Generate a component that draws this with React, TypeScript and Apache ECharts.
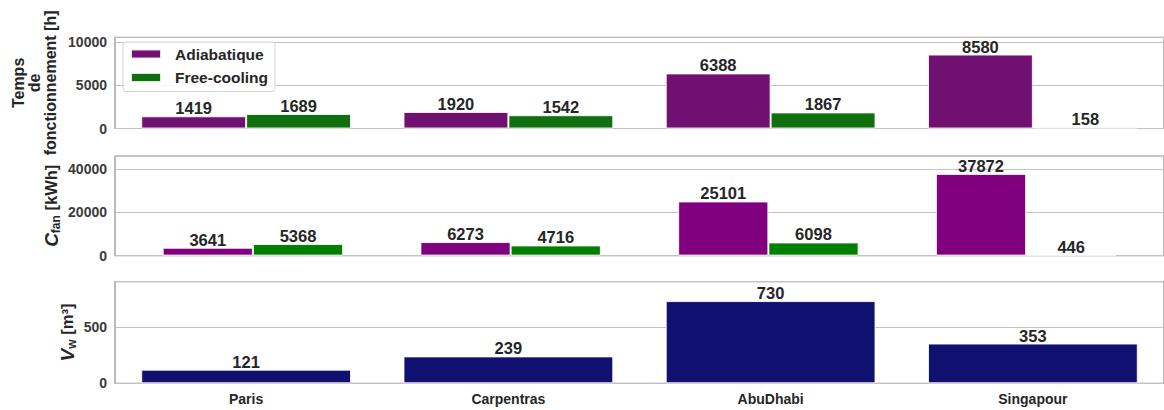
import React, { useEffect, useRef } from "react";
import * as echarts from "echarts";

const categories = ["Paris", "Carpentras", "AbuDhabi", "Singapour"];
const seriesNames = ["Adiabatique", "Free-cooling"];
const heuresAdiabatique = [1419, 1920, 6388, 8580];
const heuresFreeCooling = [1689, 1542, 1867, 158];
const cfanAdiabatique = [3641, 6273, 25101, 37872];
const cfanFreeCooling = [5368, 4716, 6098, 446];
const volumeEau = [121, 239, 730, 353];

const FONT = "'Liberation Sans', Arial, Helvetica, sans-serif";

export default function App() {
  const ref = useRef<HTMLDivElement>(null);
  useEffect(() => {
    document.body.style.margin = "0";
    if (!ref.current) return;
    const chart = echarts.init(ref.current, null, { renderer: "svg" });

    const spine = "#8c8c8c";
    const gridCol = "#c2c2c2";
    const tickText = "#3a3a3a";
    const valText = "#262626";

    const gridBase = { left: 115, width: 1052.5, show: true, borderColor: spine, borderWidth: 1.2, backgroundColor: "transparent" };

    const yAxisBase = (max: number, interval: number) => ({
      type: "value",
      min: 0,
      max,
      interval,
      axisLine: { show: false },
      axisTick: { show: false },
      splitLine: { show: true, lineStyle: { color: gridCol, width: 1 } },
      axisLabel: {
        margin: 8,
        fontFamily: FONT,
        fontWeight: "bold",
        fontSize: 14,
        color: tickText,
        formatter: (v: number) => (v % interval === 0 ? String(v) : ""),
      },
      nameLocation: "middle",
      nameRotate: 90,
      nameMoveOverlap: false,
    });

    const valueLabel = (fmt?: (p: any) => string) => ({
      show: true,
      position: "top",
      distance: 0,
      fontFamily: FONT,
      fontWeight: "bold",
      fontSize: 16.5,
      lineHeight: 16,
      color: valText,
      ...(fmt ? { formatter: fmt } : {}),
    });

    const edge = { borderColor: "rgba(255,255,255,0.85)", borderWidth: 1 };

    const nameRich = {
      b: { fontFamily: FONT, fontWeight: "bold", fontSize: 16.5, color: valText, lineHeight: 22, verticalAlign: "middle" },
      i: { fontFamily: FONT, fontWeight: "bold", fontStyle: "italic", fontSize: 19, color: valText, lineHeight: 22, verticalAlign: "middle" },
      s: { fontFamily: FONT, fontWeight: "bold", fontSize: 12, color: valText, lineHeight: 12, verticalAlign: "bottom" },
    };

    const option: any = {
      animation: false,
      textStyle: { fontFamily: FONT },
      legend: {
        left: 123,
        top: 42,
        orient: "vertical",
        itemWidth: 30,
        itemHeight: 9,
        itemGap: 5.5,
        padding: [3, 7, 5, 7],
        borderColor: "#d4d4d4",
        borderWidth: 1,
        borderRadius: 3,
        backgroundColor: "rgba(255,255,255,0.85)",
        icon: "rect",
        data: [
          { name: seriesNames[0], itemStyle: { color: "#701070" } },
          { name: seriesNames[1], itemStyle: { color: "#107010" } },
        ],
        textStyle: { fontFamily: FONT, fontWeight: "bold", fontSize: 15.5, lineHeight: 18, color: valText, padding: [0, 0, 0, 9] },
      },
      grid: [
        { ...gridBase, top: 37.3, height: 91.2 },
        { ...gridBase, top: 156, height: 99.6 },
        { ...gridBase, top: 281.7, height: 101.6 },
      ],
      xAxis: [
        {
          type: "category",
          gridIndex: 0,
          data: categories,
          axisLine: { show: false },
          axisTick: { show: false },
          axisLabel: { show: false },
        },
        {
          type: "value",
          gridIndex: 1,
          min: -0.535,
          max: 3.535,
          axisLine: { show: false },
          axisTick: { show: false },
          axisLabel: { show: false },
          splitLine: { show: false },
        },
        {
          type: "category",
          gridIndex: 2,
          data: categories,
          axisLine: { show: false },
          axisTick: { show: false },
          axisLabel: { margin: 9, fontFamily: FONT, fontWeight: "bold", fontSize: 14, color: valText },
        },
      ],
      yAxis: [
        {
          ...yAxisBase(10580, 5000),
          gridIndex: 0,
          name: "Temps\nde\nfonctionnement [h]",
          nameGap: 57,
          nameTextStyle: { fontFamily: FONT, fontWeight: "bold", fontSize: 16, lineHeight: 16, color: valText, align: "center" },
        },
        {
          ...yAxisBase(46164, 20000),
          gridIndex: 1,
          name: "{i|C}{s|fan}{b| [kWh]}",
          nameGap: 53,
          nameTextStyle: { rich: nameRich },
        },
        {
          ...yAxisBase(902, 500),
          gridIndex: 2,
          name: "{i|V}{s|w}{b| [m³]}",
          nameGap: 37,
          nameTextStyle: { rich: nameRich },
        },
      ],
      series: [
        {
          name: seriesNames[0],
          type: "bar",
          xAxisIndex: 0,
          yAxisIndex: 0,
          data: heuresAdiabatique,
          barGap: "0%",
          barCategoryGap: "20%",
          itemStyle: { color: "#701070", ...edge },
          label: valueLabel(),
        },
        {
          name: seriesNames[1],
          type: "bar",
          xAxisIndex: 0,
          yAxisIndex: 0,
          data: heuresFreeCooling,
          barGap: "0%",
          barCategoryGap: "20%",
          itemStyle: { color: "#107010", ...edge },
          label: valueLabel(),
        },
        {
          name: seriesNames[0],
          type: "bar",
          xAxisIndex: 1,
          yAxisIndex: 1,
          data: cfanAdiabatique.map((v, i) => [i, v]),
          barWidth: "35%",
          barGap: "0%",
          itemStyle: { color: "#800080", ...edge },
          label: valueLabel((p: any) => String(p.value[1])),
        },
        {
          name: seriesNames[1],
          type: "bar",
          xAxisIndex: 1,
          yAxisIndex: 1,
          data: cfanFreeCooling.map((v, i) => [i, v]),
          barWidth: "35%",
          barGap: "0%",
          itemStyle: { color: "#008000", ...edge },
          label: valueLabel((p: any) => String(p.value[1])),
        },
        {
          name: "Vw",
          type: "bar",
          xAxisIndex: 2,
          yAxisIndex: 2,
          data: volumeEau,
          barCategoryGap: "20%",
          itemStyle: { color: "#101070", ...edge },
          label: valueLabel(),
        },
      ],
    };

    chart.setOption(option);
    return () => chart.dispose();
  }, []);

  return <div ref={ref} style={{ width: 1164, height: 410 }} />;
}
